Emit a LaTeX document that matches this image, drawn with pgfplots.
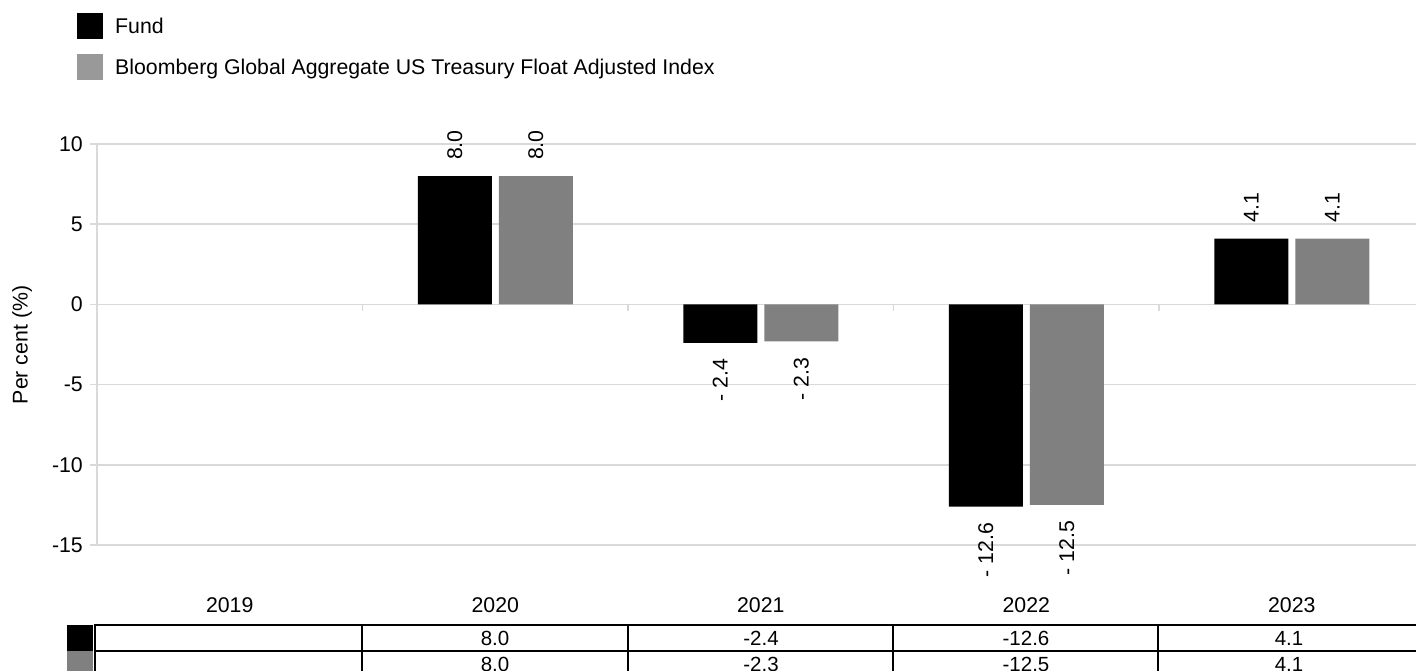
\documentclass[border=0pt]{standalone}
\usepackage{pgfplots}
\pgfplotsset{compat=1.18}
\usepackage{fontspec}
\setmainfont{Liberation Sans}
\definecolor{barg}{HTML}{808080}
\definecolor{legg}{HTML}{999999}
\definecolor{gridc}{HTML}{D9D9D9}
\begin{document}
\fontsize{21.3}{25}\selectfont
\begin{tikzpicture}
\useasboundingbox (0pt,0pt) rectangle (1416pt,-671pt);
% legend
\fill[black] (77pt,-13pt) rectangle (103pt,-39pt);
\node[anchor=base west, inner sep=0pt] at (115pt,-33.5pt) {Fund};
\fill[legg] (77pt,-54pt) rectangle (103pt,-80pt);
\node[anchor=base west, inner sep=0pt] at (115pt,-74.5pt) {Bloomberg Global Aggregate US Treasury Float Adjusted Index};
% y label
\node[rotate=90] at (22pt,-345pt) {Per cent (\%)};
\begin{axis}[
  at={(97pt,-144pt)}, anchor=north west,
  scale only axis, width=1319pt, height=401pt,
  xmin=-0.5, xmax=4.468, ymin=-15, ymax=10,
  clip=false,
  axis lines*=left,
  x axis line style={draw=none},
  y axis line style={gridc, line width=2pt},
  ytick={-15,-10,-5,0,5,10},
  yticklabels={-15,-10,-5,0,5,10},
  xtick={0,1,2,3,4},
  xticklabels={2019,2020,2021,2022,2023},
  xtick style={draw=none},
  ytick style={gridc, line width=1.5pt},
  tick align=outside,
  major tick length=7pt,
  ymajorgrids,
  grid style={gridc, line width=1.5pt},
  tick label style={font=\fontsize{21.3}{25}\selectfont},
  yticklabel style={anchor=east, inner sep=0pt, xshift=-7pt},
  xticklabel style={anchor=north, inner sep=0pt, yshift=-45pt},
  ybar=7pt, bar width=74pt,
  point meta=explicit symbolic,
  visualization depends on={rawy \as \ry},
  nodes near coords,
  every node near coord/.append style={rotate=90, inner ysep=0pt, inner xsep=16pt,
     font=\fontsize{21.3}{25}\selectfont, text=black,
     anchor=\ifdim\ry pt<0pt east\else west\fi},
]
\addplot[fill=black, draw=none] coordinates {(1,8.0) [8.0] (2,-2.4) [- 2.4] (3,-12.6) [- 12.6] (4,4.1) [4.1]};
\addplot[fill=barg, draw=none] coordinates {(1,8.0) [8.0] (2,-2.3) [- 2.3] (3,-12.5) [- 12.5] (4,4.1) [4.1]};
\foreach \xx in {0.5,1.5,2.5,3.5} {
  \edef\tmp{\noexpand\draw[gridc, line width=1.5pt] (axis cs:\xx,0) -- ++(0pt,-7pt);}\tmp
}
\end{axis}
% table
\fill[black] (67pt,-625pt) rectangle (93pt,-651pt);
\fill[barg] (67pt,-651pt) rectangle (93pt,-677pt);
\foreach \yy in {625,651,677} {\draw[line width=2pt] (95pt,-\yy pt) -- (1430pt,-\yy pt);}
\foreach \xx in {95,362,628,893,1158} {\draw[line width=2pt] (\xx pt,-624pt) -- (\xx pt,-678pt);}
\begin{scope}[every node/.style={font=\fontsize{20.5}{24}\selectfont, inner sep=0pt}]
\node at (495pt,-638pt) {8.0};
\node at (761pt,-638pt) {-2.4};
\node at (1026pt,-638pt) {-12.6};
\node at (1289pt,-638pt) {4.1};
\node at (495pt,-664pt) {8.0};
\node at (761pt,-664pt) {-2.3};
\node at (1026pt,-664pt) {-12.5};
\node at (1289pt,-664pt) {4.1};
\end{scope}
\end{tikzpicture}
\end{document}
